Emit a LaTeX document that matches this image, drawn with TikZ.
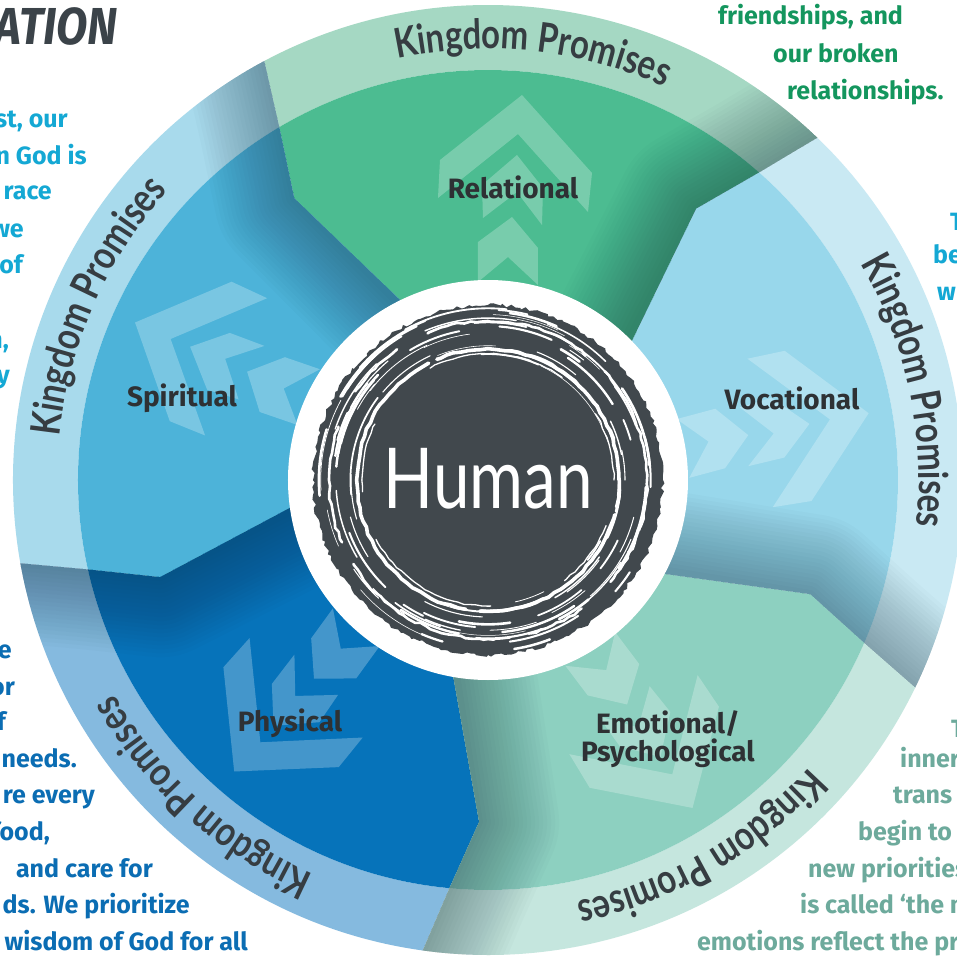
\documentclass[tikz,border=0pt]{standalone}
\usepackage{fontspec}
\setmainfont{Fira Sans}
\newfontfamily\kpfont[FakeStretch=0.8]{Lato}
\newfontfamily\humfont[FakeStretch=0.78]{Lato}
\newfontfamily\titfont[FakeStretch=0.88]{Fira Sans}
\usetikzlibrary{decorations.text,decorations.pathmorphing}
\definecolor{relC}{HTML}{4CBC91}\definecolor{relB}{HTML}{A5D8C3}
\definecolor{spiC}{HTML}{4DB3D9}\definecolor{spiB}{HTML}{A8DAEC}
\definecolor{phyC}{HTML}{0673BA}\definecolor{phyB}{HTML}{85BADF}
\definecolor{emoC}{HTML}{8DD0C0}\definecolor{emoB}{HTML}{C5E6DE}
\definecolor{vocC}{HTML}{98D7EB}\definecolor{vocB}{HTML}{C9E9F3}
\definecolor{hdark}{HTML}{41484D}
\definecolor{labc}{HTML}{2E3134}
\definecolor{kpc}{HTML}{363D42}
\definecolor{titc}{HTML}{3B4349}
\definecolor{grn}{HTML}{14965E}
\definecolor{cyn}{HTML}{14A8D4}
\definecolor{blu}{HTML}{0B6DB3}
\definecolor{tea}{HTML}{6DAA9C}
\definecolor{shd}{HTML}{0E2A38}
\tikzset{
  para/.style={font=\fontsize{25}{25}\selectfont\bfseries, inner sep=0pt},
  lab/.style={font=\fontsize{28}{28}\selectfont\bfseries, text=labc, inner sep=0pt, align=center},
  chev/.style={fill=white, fill opacity=0.25},
  brush/.style={white, line cap=round},
}
\newcommand{\mkband}[2]{%
  \pgfmathsetmacro\wa{#1}\pgfmathsetmacro\wb{#1+72}%
  \fill[#2] (\wa+4.6:410) -- (\wa+2.1:475) arc[start angle=\wa+2.1, end angle=\wb+2.1, radius=475] -- (\wb+4.6:410) arc[start angle=\wb+4.6, end angle=\wa+4.6, radius=410] -- cycle;}
\newcommand{\mkwedge}[2]{%
  \pgfmathsetmacro\wa{#1}\pgfmathsetmacro\wb{#1+72}%
  \fill[#2] (0,0) -- (\wa:200) -- (\wa+8.5:342) -- (\wa+4.6:410) arc[start angle=\wa+4.6, end angle=\wb+4.6, radius=410] -- (\wb+8.5:342) -- (\wb:200) -- cycle;}
\newcommand{\mkshadow}[1]{%
  \pgfmathsetmacro\wa{#1}\pgfmathsetmacro\wb{#1+72}%
  \begin{scope}
    \clip (0,0) -- (\wa:200) -- (\wa+8.5:342) -- (\wa+4.6:410) -- (\wa+2.1:475) arc[start angle=\wa+2.1, end angle=\wb+2.1, radius=475] -- (\wb+4.6:410) -- (\wb+8.5:342) -- (\wb:200) -- cycle;
    \foreach \w in {8,16,...,160}
      \draw[shd, opacity=0.02, line width=\w pt, line join=round] (\wa:190) -- (\wa+8.5:342) -- (\wa+4.6:410) -- (\wa+2.1:475) -- (\wa+1.5:530);
  \end{scope}}
\newcommand{\mkchev}[1]{%
  \begin{scope}[rotate=#1]
    \fill[chev] (-50,282) -- (-48,320) -- (34,385) -- (104,307) -- (100,268) -- (30,346) -- cycle;
    \fill[chev] (-5,262) -- (-6,295) -- (29,325) -- (55,292) -- (54,255) -- (29,288) -- cycle;
    \fill[chev] (-10,198) -- (-10,238) -- (24,263) -- (50,232) -- (50,195) -- (20,223) -- cycle;
  \end{scope}}
\newcommand{\kp}[1]{%
  \path[decorate, decoration={text along path, text align=center,
    text={|\kpfont\bfseries\fontsize{41}{41}\selectfont\color{kpc}|Kingdom Promises}}]
    (#1+35:431) arc[start angle=#1+35, end angle=#1-35, radius=431];}
\begin{document}
\begin{tikzpicture}[x=1pt,y=1pt]
\useasboundingbox (-488,-482) rectangle (469,480);
\fill[white] (-488,-482) rectangle (469,480);
% surrounding texts
\node[inner sep=0pt, text=titc, font=\titfont\fontsize{52}{52}\selectfont\bfseries\itshape, anchor=base east] (title) at (-370,435) {ATION};
\node[para, text=grn, anchor=base west] (g1) at (230,455) {friendships, and};
\node[para, text=grn, anchor=base west] (g2) at (285,417) {our broken};
\node[para, text=grn, anchor=base west] (g3) at (299,380) {relationships.};
\node[para, text=cyn, anchor=base east] (c1) at (-420,352) {st, our};
\node[para, text=cyn, anchor=base east] (c2) at (-401,315) {n God is};
\node[para, text=cyn, anchor=base east] (c3) at (-436,280) {race};
\node[para, text=cyn, anchor=base east] (c4) at (-464,243) {we};
\node[para, text=cyn, anchor=base east] (c5) at (-465,207) {of};
\node[para, text=cyn, anchor=base east] (c6) at (-479,132) {n,};
\node[para, text=cyn, anchor=base east] (c7) at (-478,97) {y};
\node[para, text=cyn, anchor=base west] (r1) at (462,250) {T};
\node[para, text=cyn, anchor=base west] (r2) at (445,217) {be};
\node[para, text=cyn, anchor=base west] (r3) at (449,180) {w};
\node[para, text=blu, anchor=base east] (b1) at (-476,-178) {e};
\node[para, text=blu, anchor=base east] (b2) at (-473,-215) {or};
\node[para, text=blu, anchor=base east] (b3) at (-482,-250) {f};
\node[para, text=blu, anchor=base east] (b4) at (-411,-287) {needs.};
\node[para, text=blu, anchor=base east] (b5) at (-393,-323) {re every};
\node[para, text=blu, anchor=base east] (b6) at (-438,-360) {food,};
\node[para, text=blu, anchor=base east] (b7) at (-335,-397) {and care for};
\node[para, text=blu, anchor=base east] (b8) at (-298,-433) {ds. We prioritize};
\node[para, text=blu, anchor=base east] (b9) at (-240,-470) {wisdom of God for all};
\node[para, text=tea, anchor=base west] (t0) at (463,-257) {T};
\node[para, text=tea, anchor=base west] (t1) at (412,-287) {inner};
\node[para, text=tea, anchor=base west] (t2) at (405,-323) {trans};
\node[para, text=tea, anchor=base west] (t3) at (370,-360) {begin to t};
\node[para, text=tea, anchor=base west] (t4) at (320,-397) {new priorities};
\node[para, text=tea, anchor=base west] (t5) at (312,-433) {is called `the m};
\node[para, text=tea, anchor=base west] (t6) at (209,-470) {emotions reflect the pr};
% bands and wedges
\mkband{44}{relB}\mkband{116}{spiB}\mkband{188}{phyB}\mkband{260}{emoB}\mkband{332}{vocB}
\mkwedge{44}{relC}\mkwedge{116}{spiC}\mkwedge{188}{phyC}\mkwedge{260}{emoC}\mkwedge{332}{vocC}
\mkshadow{44}\mkshadow{116}\mkshadow{188}\mkshadow{260}\mkshadow{332}
% chevrons
\mkchev{0}\mkchev{71}\mkchev{144}\mkchev{217}\mkchev{285}
% centre
\fill[white] (0,0) circle[radius=200];
\pgfmathsetseed{11}
\fill[hdark, decorate, decoration={random steps, segment length=4pt, amplitude=1.8pt}] (0,0) circle[radius=175];
\draw[brush, line width=3.6, decorate, decoration={random steps, segment length=7pt, amplitude=0.9pt}, dash pattern=on 260pt off 9pt on 330pt off 14pt on 180pt off 8pt] (0,0) circle[radius=131];
\draw[brush, line width=1.3, decorate, decoration={random steps, segment length=6pt, amplitude=0.8pt}, dash pattern=on 70pt off 50pt on 140pt off 80pt] (0,0) circle[radius=126];
\draw[brush, line width=1.1, dash pattern=on 60pt off 90pt on 45pt off 110pt, dash phase=30pt] (0,0) circle[radius=137];
\draw[brush, line width=2.6, decorate, decoration={random steps, segment length=6pt, amplitude=1.2pt}, dash pattern=on 120pt off 25pt on 170pt off 35pt on 60pt off 40pt] (0,0) circle[radius=159];
\pgfmathsetseed{5}
\foreach \i in {1,...,70} {
  \pgfmathsetmacro\ang{rnd*360}
  \pgfmathsetmacro\rr{142+rnd*30}
  \pgfmathsetmacro\len{6+rnd*30}
  \pgfmathsetmacro\lw{0.5+rnd*2.2}
  \draw[brush, line width=\lw pt] (\ang:\rr) arc[start angle=\ang, delta angle=\len, radius=\rr];
}
\foreach \i in {1,...,18} {
  \pgfmathsetmacro\ang{rnd*360}
  \pgfmathsetmacro\rr{124+rnd*15}
  \pgfmathsetmacro\len{10+rnd*40}
  \pgfmathsetmacro\lw{0.5+rnd*1.5}
  \draw[brush, line width=\lw pt] (\ang:\rr) arc[start angle=\ang, delta angle=\len, radius=\rr];
}
\node[text=white, font=\humfont\fontsize{84}{84}\selectfont, anchor=base, inner sep=0pt] (human) at (0,-28) {Human};
% labels
\node[lab] (rel) at (25,293) {Relational};
\node[lab] (spi) at (-306,82) {Spiritual};
\node[lab] (voc) at (304,82) {Vocational};
\node[lab] (phy) at (-198,-243) {Physical};
\node[lab] (emo) at (180,-259) {Emotional/\\Psychological};
% ring texts
\kp{84}\kp{12}\kp{-60}\kp{-132}\kp{156}
\end{tikzpicture}
\end{document}
